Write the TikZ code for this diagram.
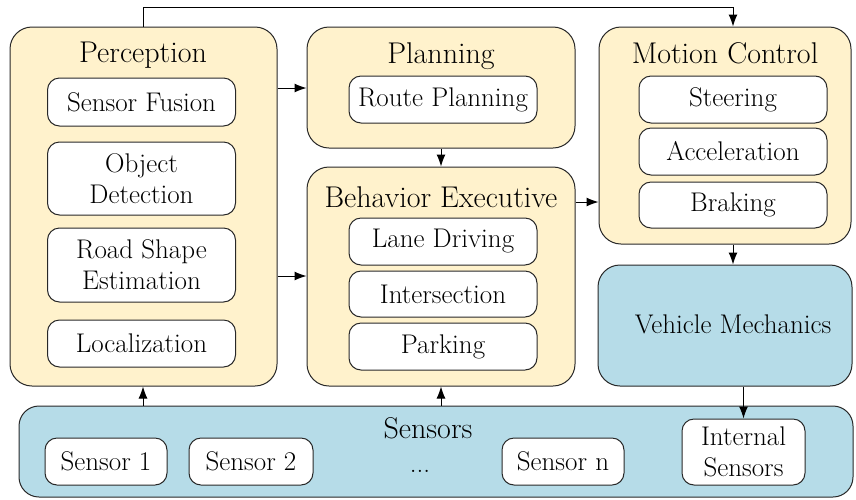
\documentclass[tikz,border=0pt]{standalone}
\usetikzlibrary{arrows.meta}
\definecolor{panelyellow}{RGB}{255,242,204}
\definecolor{panelblue}{RGB}{182,220,232}
\definecolor{edge}{RGB}{40,40,40}
\tikzset{
  panel/.style={draw=edge, line width=1pt, rounded corners=22pt, fill=panelyellow, inner sep=0pt},
  bluepanel/.style={panel, fill=panelblue},
  item/.style={draw=edge, line width=1pt, rounded corners=12pt, fill=white, inner sep=0pt,
    minimum width=188pt, align=center, font=\fontsize{27}{31}\selectfont},
  title/.style={anchor=base, inner sep=0pt, font=\fontsize{30}{34}\selectfont},
  arr/.style={draw=black, line width=1pt, -{Latex[length=12pt,width=9pt]}},
}
\begin{document}
\begin{tikzpicture}[x=1pt,y=-1pt]
\useasboundingbox (0,0) rectangle (856,499);

% main panels
\node[panel, minimum width=267pt, minimum height=359pt] (perc) at (143.5,206.5) {};
\node[panel, minimum width=268pt, minimum height=121pt] (plan) at (441,87.5) {};
\node[panel, minimum width=268pt, minimum height=219pt] (beh) at (441,276.5) {};
\node[panel, minimum width=252pt, minimum height=217pt] (mc) at (725,135.5) {};
\node[bluepanel, minimum width=254pt, minimum height=121pt] (vm) at (725,325.5) {};
\node[bluepanel, minimum width=834pt, minimum height=91pt, rounded corners=20pt] (sens) at (436,451.5) {};

% panel titles
\node[title] (perct) at (143,62) {Perception};
\node[title] (plant) at (441,63) {Planning};
\node[title] (beht) at (441,207) {Behavior Executive};
\node[title] (mct) at (725,63) {Motion Control};
\node[title] (senst) at (428,438) {Sensors};
\node[inner sep=0pt, anchor=base, font=\fontsize{27}{31}\selectfont] (vmt) at (733,333) {Vehicle Mechanics};

% perception modules
\node[item, minimum height=48pt] (sf) at (141.5,102) {Sensor Fusion};
\node[item, minimum height=73pt] (od) at (141.5,178.5) {Object\\Detection};
\node[item, minimum height=74pt] (rs) at (141.5,265) {Road Shape\\Estimation};
\node[item, minimum height=47pt] (loc) at (141.5,343.5) {Localization};

% planning and behavior modules
\node[item, minimum height=47pt] (rp) at (443,99.5) {Route Planning};
\node[item, minimum height=47pt] (ld) at (443,241.5) {Lane Driving};
\node[item, minimum height=46pt] (inter) at (443,294) {Intersection};
\node[item, minimum height=47pt] (park) at (443,346.5) {Parking};

% motion control modules
\node[item, minimum height=47pt] (steer) at (733,99.5) {Steering};
\node[item, minimum height=47pt] (acc) at (733,151.5) {Acceleration};
\node[item, minimum height=46pt] (brake) at (733,205) {Braking};

% sensors
\node[item, minimum width=122pt, minimum height=47pt] (s1) at (106,461.5) {Sensor 1};
\node[item, minimum width=124pt, minimum height=47pt] (s2) at (251,461.5) {Sensor 2};
\node[inner sep=0pt, anchor=base, font=\fontsize{27}{31}\selectfont] (dots) at (420,472) {...};
\node[item, minimum width=122pt, minimum height=47pt] (sn) at (563,461.5) {Sensor n};
\node[item, minimum width=123pt, minimum height=66pt] (is) at (743.5,452) {Internal\\Sensors};

% connectors
\coordinate (loopl) at (143,7);
\coordinate (loopr) at (733,7);
\draw[arr] (perc.north -| loopl) -- (loopl) -- (loopr) -- (mc.north -| loopr);
\draw[arr] (perc.east |- 0,88) -- (plan.west |- 0,88);
\draw[arr] (perc.east |- 0,276) -- (beh.west |- 0,276);
\draw[arr] (plan.south) -- (beh.north);
\draw[arr] (beh.east |- 0,202) -- (mc.west |- 0,202);
\draw[arr] (mc.south -| loopr) -- (vm.north -| loopr);
\draw[arr] (vm.south -| is.north) -- (is.north);
\draw[arr] (sens.north -| loopl) -- (perc.south -| loopl);
\draw[arr] (sens.north -| beh.south) -- (beh.south);
\end{tikzpicture}
\end{document}
